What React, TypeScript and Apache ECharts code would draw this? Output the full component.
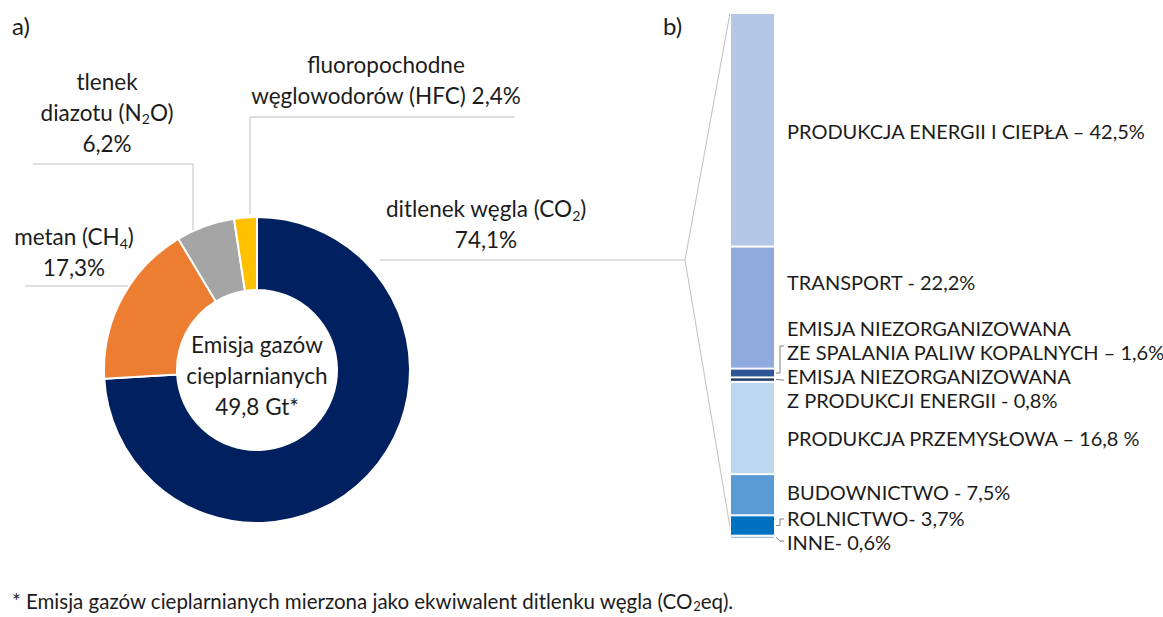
import React, { useEffect, useRef } from "react";
import * as echarts from "echarts";

// ---- data ----
const gasLabelLines = [
  ["ditlenek węgla (CO{sub|2})"],
  ["metan (CH{sub|4})"],
  ["tlenek", "diazotu (N{sub|2}O)"],
  ["fluoropochodne", "węglowodorów (HFC) "],
];
const gasValues = [74.1, 17.3, 6.2, 2.4];
const gasColors = ["#002060", "#ED7D31", "#A5A5A5", "#FFC000"];
const centerLines = ["Emisja gazów", "cieplarnianych", "49,8 Gt*"];

const sectorNames = [
  "PRODUKCJA ENERGII I CIEPŁA",
  "TRANSPORT",
  "EMISJA NIEZORGANIZOWANA\nZE SPALANIA PALIW KOPALNYCH",
  "EMISJA NIEZORGANIZOWANA\nZ PRODUKCJI ENERGII",
  "PRODUKCJA PRZEMYSŁOWA",
  "BUDOWNICTWO",
  "ROLNICTWO",
  "INNE",
];
const sectorSeparators = [" – ", " - ", " – ", " - ", " – ", " - ", "- ", "- "];
const sectorSuffix = ["%", "%", "%", "%", " %", "%", "%", "%"];
const sectorValues = [42.5, 22.2, 1.6, 0.8, 16.8, 7.5, 3.7, 0.6];
const sectorColors = ["#B4C7E7", "#8FAADC", "#2F5597", "#1F3864", "#BDD7EE", "#5B9BD5", "#0070C0", "#9DC3E6"];
const footnote = "* Emisja gazów cieplarnianych mierzona jako ekwiwalent ditlenku węgla (CO{sub|2}eq).";

// ---- layout ----
const FONT = "Lato, 'Open Sans', sans-serif";
const TXT = "#1c1c1c";
const LINE = "#BFBFBF";
const PIE_C = [257, 370];
const gasLabelPos = [
  [486, 224],
  [74, 252],
  [107, 112],
  [386, 80],
];
const sectorLabelY = [131, 282, 340, 388, 438, 492, 518, 542];
const BAR = { left: 730, top: 13, width: 45, height: 526 };
const LABEL_X = 787;

const fmt = (v: number) => v.toFixed(1).replace(".", ",");

export default function App() {
  const ref = useRef<HTMLDivElement>(null);
  useEffect(() => {
    if (!ref.current) return;
    const chart = echarts.init(ref.current, null, { renderer: "svg" });
    const total = sectorValues.reduce((a, b) => a + b, 0);
    const sub = { fontSize: 14, padding: [13, 0, 0, 0], fontFamily: FONT, color: TXT };

    const pieData = gasValues.map((v, i) => ({
      value: v,
      name: gasLabelLines[i].join(" "),
      itemStyle: { color: gasColors[i] },
    }));

    const barSeries = sectorValues.map((v, i) => ({
      type: "bar",
      stack: "s",
      barWidth: "100%",
      name: sectorNames[i],
      data: [v],
      itemStyle: { color: sectorColors[i], borderColor: "#ffffff", borderWidth: 1 },
      label: { show: false },
      emphasis: { disabled: true },
    }));

    chart.setOption({
      animation: false,
      grid: { left: BAR.left, top: BAR.top, width: BAR.width, height: BAR.height },
      xAxis: { type: "category", data: ["s"], show: false },
      yAxis: { type: "value", min: 0, max: total, inverse: true, show: false },
      series: [
        {
          type: "pie",
          center: PIE_C,
          radius: [80, 153],
          startAngle: 90,
          clockwise: true,
          avoidLabelOverlap: false,
          silent: true,
          data: pieData,
          itemStyle: { borderColor: "#ffffff", borderWidth: 2 },
          label: {
            show: true,
            position: "outside",
            fontFamily: FONT,
            fontSize: 22.5,
            lineHeight: 31,
            color: TXT,
            align: "center",
            formatter: (p: any) => {
              const lines = gasLabelLines[p.dataIndex];
              const pct = fmt(p.value) + "%";
              if (p.dataIndex === 3) return lines[0] + "\n" + lines[1] + pct;
              return lines.join("\n") + "\n" + pct;
            },
            rich: { sub },
          },
          labelLine: { show: false },
          labelLayout: (p: any) => ({
            x: gasLabelPos[p.dataIndex][0],
            y: gasLabelPos[p.dataIndex][1],
            align: "center",
            verticalAlign: "middle",
          }),
        },
        ...barSeries,
      ],
    });

    const yPix = (v: number) => chart.convertToPixel({ gridIndex: 0 }, [0, v])[1];
    const cum: number[] = [0];
    sectorValues.forEach((v) => cum.push(cum[cum.length - 1] + v));
    const mid = (i: number) => (yPix(cum[i]) + yPix(cum[i + 1])) / 2;
    const barRight = BAR.left + BAR.width + 1;
    const barTop = yPix(0);
    const barBottom = yPix(total);

    const lineStyle = { stroke: LINE, lineWidth: 1, fill: null };
    const brStyle = { stroke: "#7F7F7F", lineWidth: 1, fill: null };

    const graphics: any[] = [
      { type: "text", left: 12, top: 13, style: { text: "a)", font: `24px ${FONT}`, fill: TXT } },
      { type: "text", left: 663, top: 13, style: { text: "b)", font: `24px ${FONT}`, fill: TXT } },
      {
        type: "text",
        x: PIE_C[0],
        y: PIE_C[1] + 5,
        style: {
          text: centerLines.join("\n"),
          font: `22.5px ${FONT}`,
          lineHeight: 31,
          fill: TXT,
          align: "center",
          verticalAlign: "middle",
        },
      },
      // leader lines
      { type: "polyline", shape: { points: [[515, 117], [250, 117], [250, 214]] }, style: lineStyle },
      { type: "polyline", shape: { points: [[33, 164], [193, 164], [193, 234]] }, style: lineStyle },
      { type: "polyline", shape: { points: [[25, 286], [129, 286]] }, style: lineStyle },
      { type: "polyline", shape: { points: [[380, 260], [685, 260]] }, style: lineStyle },
      { type: "polyline", shape: { points: [[BAR.left, barTop], [685, 260], [BAR.left + 2, barBottom]] }, style: lineStyle },
      // brackets
      { type: "polyline", shape: { points: [[784, 346], [780, 346], [780, mid(2)], [barRight, mid(2)]] }, style: brStyle },
      { type: "polyline", shape: { points: [[barRight, mid(3)], [780, mid(3)], [780, 380], [784, 380]] }, style: brStyle },
      { type: "polyline", shape: { points: [[barRight, mid(6)], [780, mid(6)], [780, 519], [784, 519]] }, style: brStyle },
      { type: "polyline", shape: { points: [[barRight, mid(7)], [780, 541], [784, 541]] }, style: brStyle },
      {
        type: "text",
        left: 12,
        top: 590,
        style: {
          text: footnote,
          font: `20.5px ${FONT}`,
          fill: TXT,
          rich: { sub: { fontSize: 13, padding: [10, 0, 0, 0], fontFamily: FONT, fill: TXT } },
        },
      },
    ];

    sectorValues.forEach((v, i) => {
      graphics.push({
        type: "text",
        x: LABEL_X,
        y: sectorLabelY[i],
        style: {
          text: sectorNames[i] + sectorSeparators[i] + fmt(v) + sectorSuffix[i],
          font: `20px ${FONT}`,
          lineHeight: 24,
          fill: TXT,
          align: "left",
          verticalAlign: "middle",
        },
      });
    });

    chart.setOption({ graphic: graphics });
    return () => chart.dispose();
  }, []);

  return (
    <div
      ref={ref}
      style={{ position: "fixed", left: 0, top: 0, width: 1163, height: 617, background: "#ffffff" }}
    />
  );
}
